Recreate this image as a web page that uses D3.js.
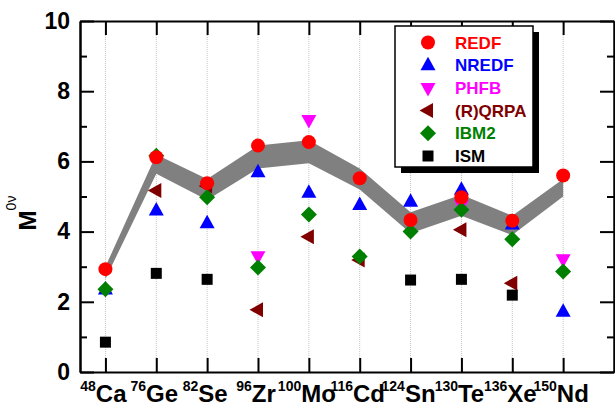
<!DOCTYPE html>
<html>
<head>
<meta charset="utf-8">
<script src="https://cdn.jsdelivr.net/npm/d3@7"></script>
<style>
  body { margin: 0; background: #fff; }
  svg { font-family: "Liberation Sans", Arial, sans-serif; }
</style>
</head>
<body>
<div id="chart"></div>
<script>
const nuclei = ['Ca', 'Ge', 'Se', 'Zr', 'Mo', 'Cd', 'Sn', 'Te', 'Xe', 'Nd'];
const massNumbers = ['48', '76', '82', '96', '100', '116', '124', '130', '136', '150'];

const redf  = [2.93, 6.12, 5.38, 6.45, 6.55, 5.52, 4.33, 4.98, 4.31, 5.60];
const nredf = [2.35, 4.60, 4.24, 5.69, 5.11, 4.76, 4.85, 5.19, 4.20, 1.72];
const phfb  = [null, null, null, 3.30, 7.18, null, null, 4.76, null, 3.21];
const qrpa  = [null, 5.17, 5.30, 1.77, 3.85, 3.19, null, 4.05, 2.53, null];
const ibm2  = [2.36, 6.16, 4.98, 2.98, 4.49, 3.29, 4.00, 4.62, 3.78, 2.86];
const ism   = [0.85, 2.81, 2.64, null, null, null, 2.62, 2.64, 2.19, null];

// grey uncertainty band
const bandUpper = [3.00, 6.20, 5.50, 6.45, 6.60, 5.80, 4.55, 5.05, 4.45, 5.50];
const bandLower = [2.65, 5.65, 4.90, 5.80, 5.95, 5.20, 3.95, 4.45, 3.90, 5.00];

const yTicks = [0, 2, 4, 6, 8, 10];
const yMinor = [1, 3, 5, 7, 9];

const W = 615, H = 408;
const plotLeft = 80, plotRight = 614, plotTop = 21, plotBottom = 372;

const svg = d3.select('#chart').append('svg')
    .attr('width', W)
    .attr('height', H);

const x = d3.scaleLinear().domain([-0.5, 10]).range([plotLeft, plotRight]);
const y = d3.scaleLinear().domain([0, 10]).range([plotBottom, plotTop]);

// dotted vertical guides
svg.append('g')
    .selectAll('line')
    .data(nuclei)
    .enter()
    .append('line')
    .attr('x1', (d, i) => x(i)).attr('x2', (d, i) => x(i))
    .attr('y1', plotTop).attr('y2', plotBottom)
    .attr('stroke', '#c4c4c4')
    .attr('stroke-width', 1)
    .attr('stroke-dasharray', '1,1');

// band
const area = d3.area()
    .x((d, i) => x(i))
    .y0((d, i) => y(bandLower[i]))
    .y1((d, i) => y(bandUpper[i]));

svg.append('path')
    .datum(nuclei)
    .attr('d', area)
    .attr('fill', '#808080');

// axes
function styleAxis(g) {
    g.selectAll('path.domain').attr('stroke', '#000').attr('stroke-width', 2);
    g.selectAll('.tick line').attr('stroke', '#000').attr('stroke-width', 2);
}

const idx = d3.range(nuclei.length);

svg.append('g')
    .attr('transform', `translate(0, ${plotBottom})`)
    .call(d3.axisBottom(x).tickValues(idx).tickSize(-14).tickSizeOuter(0).tickFormat(''))
    .call(styleAxis);

svg.append('g')
    .attr('transform', `translate(0, ${plotTop})`)
    .call(d3.axisTop(x).tickValues(idx).tickSize(-14).tickSizeOuter(0).tickFormat(''))
    .call(styleAxis);

svg.append('g')
    .attr('transform', `translate(${plotLeft}, 0)`)
    .call(d3.axisLeft(y).tickValues(yTicks).tickSize(-14).tickSizeOuter(0).tickPadding(10))
    .call(styleAxis)
    .call(g => g.selectAll('.tick text')
        .attr('fill', '#000')
        .style('font-size', '23px')
        .style('font-weight', 'bold'));

svg.append('g')
    .attr('transform', `translate(${plotLeft}, 0)`)
    .call(d3.axisLeft(y).tickValues(yMinor).tickSize(-7).tickSizeOuter(0).tickFormat(''))
    .call(styleAxis);

svg.append('g')
    .attr('transform', `translate(${plotRight}, 0)`)
    .call(d3.axisRight(y).tickValues(yTicks).tickSize(-14).tickSizeOuter(0).tickFormat(''))
    .call(styleAxis);

svg.append('g')
    .attr('transform', `translate(${plotRight}, 0)`)
    .call(d3.axisRight(y).tickValues(yMinor).tickSize(-7).tickSizeOuter(0).tickFormat(''))
    .call(styleAxis);

// x labels with mass number superscripts
const xl = svg.append('g')
    .selectAll('text')
    .data(nuclei)
    .enter()
    .append('text')
    .attr('x', (d, i) => x(i) - 2)
    .attr('y', 402)
    .attr('text-anchor', 'middle')
    .attr('font-weight', 'bold')
    .attr('fill', '#000');
xl.append('tspan')
    .attr('font-size', '14px')
    .attr('dy', -11)
    .text((d, i) => massNumbers[i]);
xl.append('tspan')
    .attr('font-size', '24px')
    .attr('dy', 11)
    .text(d => d);

// y label
const yl = svg.append('text')
    .attr('transform', 'translate(36, 213) rotate(-90)')
    .attr('text-anchor', 'middle')
    .attr('fill', '#000');
yl.append('tspan')
    .attr('font-size', '24px')
    .attr('font-weight', 'bold')
    .text('M');
yl.append('tspan')
    .attr('font-size', '14px')
    .attr('dy', -20)
    .text('0ν');

// marker shapes
const shapes = {
    circle: 'M7,0A7,7,0,1,1,-7,0A7,7,0,1,1,7,0Z',
    up: 'M0,-8.5L7.5,5L-7.5,5Z',
    down: 'M0,8.5L7.5,-5L-7.5,-5Z',
    left: 'M-8.5,0L5,-7.5L5,7.5Z',
    diamond: 'M0,-8L8,0L0,8L-8,0Z',
    square: 'M-5.5,-5.5L5.5,-5.5L5.5,5.5L-5.5,5.5Z',
};

const series = [
    { name: 'REDF', values: redf, color: '#ff0000', shape: 'circle' },
    { name: 'NREDF', values: nredf, color: '#0000ff', shape: 'up' },
    { name: 'PHFB', values: phfb, color: '#ff00ff', shape: 'down' },
    { name: '(R)QRPA', values: qrpa, color: '#800000', shape: 'left' },
    { name: 'IBM2', values: ibm2, color: '#008000', shape: 'diamond' },
    { name: 'ISM', values: ism, color: '#000000', shape: 'square' },
];

// draw order so that overlaps look like the original
const drawOrder = ['NREDF', 'PHFB', '(R)QRPA', 'IBM2', 'ISM', 'REDF'];
drawOrder.forEach(name => {
    const s = series.find(d => d.name === name);
    const pts = s.values.map((v, i) => ({ i, v })).filter(d => d.v !== null);
    svg.append('g')
        .selectAll('path')
        .data(pts)
        .enter()
        .append('path')
        .attr('d', shapes[s.shape])
        .attr('transform', d => `translate(${x(d.i)}, ${y(d.v)})`)
        .attr('fill', s.color);
});

// legend
const lg = svg.append('g');
lg.append('rect')
    .attr('x', 401).attr('y', 32)
    .attr('width', 138).attr('height', 141)
    .attr('fill', '#000');
lg.append('rect')
    .attr('x', 395).attr('y', 26)
    .attr('width', 138).attr('height', 141)
    .attr('fill', '#fff')
    .attr('stroke', '#000')
    .attr('stroke-width', 1.5);

series.forEach((s, k) => {
    const ry = 42.5 + k * 22.7;
    lg.append('path')
        .attr('d', shapes[s.shape])
        .attr('transform', `translate(428, ${ry})`)
        .attr('fill', s.color);
    lg.append('text')
        .attr('x', 455)
        .attr('y', ry + 6)
        .attr('fill', s.color)
        .style('font-size', '17px')
        .style('font-weight', 'bold')
        .text(s.name);
});
</script>
</body>
</html>
